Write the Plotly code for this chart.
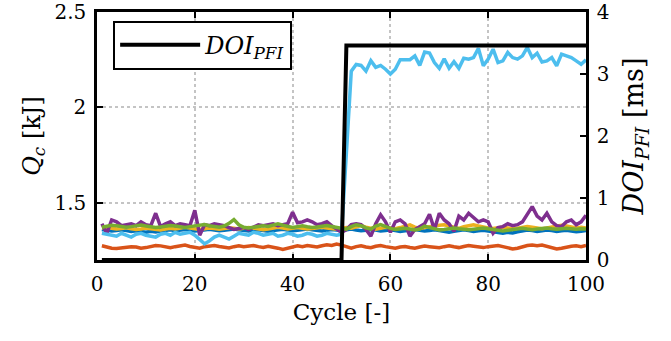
import plotly.graph_objects as go

cycles = list(range(1, 101))

q_blue = [1.360, 1.356, 1.352, 1.355, 1.358, 1.354, 1.350, 1.353, 1.348, 1.346,
          1.350, 1.347, 1.352, 1.356, 1.358, 1.354, 1.357, 1.360, 1.356, 1.352,
          1.355, 1.358, 1.361, 1.357, 1.353, 1.356, 1.360, 1.362, 1.358, 1.355,
          1.352, 1.356, 1.359, 1.355, 1.351, 1.354, 1.358, 1.361, 1.357, 1.353,
          1.356, 1.359, 1.362, 1.358, 1.355, 1.352, 1.356, 1.360, 1.357, 1.354,
          1.358, 1.362, 1.357, 1.353, 1.356, 1.360, 1.357, 1.352, 1.355, 1.358,
          1.354, 1.350, 1.353, 1.357, 1.360, 1.356, 1.352, 1.355, 1.358, 1.354,
          1.350, 1.346, 1.350, 1.355, 1.358, 1.354, 1.350, 1.353, 1.356, 1.352,
          1.348, 1.344, 1.340, 1.345, 1.342, 1.348, 1.353, 1.357, 1.354, 1.350,
          1.353, 1.357, 1.354, 1.350, 1.353, 1.356, 1.352, 1.348, 1.351, 1.355]

q_orange = [1.275, 1.268, 1.262, 1.260, 1.263, 1.266, 1.270, 1.268, 1.262, 1.265,
            1.272, 1.276, 1.274, 1.268, 1.264, 1.270, 1.275, 1.278, 1.271, 1.266,
            1.262, 1.270, 1.273, 1.276, 1.271, 1.266, 1.263, 1.270, 1.274, 1.269,
            1.272, 1.276, 1.270, 1.266, 1.272, 1.268, 1.262, 1.255, 1.262, 1.270,
            1.274, 1.270, 1.276, 1.272, 1.268, 1.275, 1.280, 1.276, 1.284, 1.278,
            1.268, 1.262, 1.270, 1.275, 1.268, 1.264, 1.272, 1.276, 1.270, 1.265,
            1.262, 1.268, 1.271, 1.266, 1.262, 1.268, 1.273, 1.270, 1.266, 1.264,
            1.270, 1.274, 1.269, 1.265, 1.271, 1.276, 1.272, 1.268, 1.265, 1.270,
            1.274, 1.276, 1.270, 1.262, 1.258, 1.262, 1.270, 1.276, 1.279, 1.275,
            1.278, 1.272, 1.265, 1.258, 1.262, 1.268, 1.272, 1.274, 1.270, 1.276]

q_yellow = [1.368, 1.372, 1.366, 1.362, 1.365, 1.369, 1.364, 1.360, 1.363, 1.367,
            1.364, 1.360, 1.358, 1.362, 1.366, 1.363, 1.368, 1.372, 1.367, 1.363,
            1.360, 1.364, 1.368, 1.365, 1.361, 1.365, 1.369, 1.366, 1.362, 1.366,
            1.370, 1.367, 1.363, 1.359, 1.363, 1.367, 1.371, 1.367, 1.363, 1.366,
            1.370, 1.366, 1.362, 1.365, 1.369, 1.372, 1.368, 1.364, 1.361, 1.365,
            1.370, 1.366, 1.372, 1.380, 1.372, 1.366, 1.362, 1.366, 1.372, 1.368,
            1.364, 1.370, 1.376, 1.384, 1.372, 1.365, 1.370, 1.375, 1.378, 1.382,
            1.385, 1.380, 1.372, 1.366, 1.374, 1.380, 1.384, 1.378, 1.372, 1.368,
            1.365, 1.369, 1.373, 1.368, 1.363, 1.367, 1.372, 1.376, 1.372, 1.367,
            1.364, 1.368, 1.373, 1.378, 1.382, 1.378, 1.373, 1.368, 1.372, 1.368]

q_purple = [1.390, 1.340, 1.410, 1.400, 1.380, 1.385, 1.390, 1.380, 1.400, 1.385,
            1.380, 1.445, 1.375, 1.390, 1.400, 1.380, 1.390, 1.385, 1.380, 1.460,
            1.330, 1.385, 1.380, 1.390, 1.385, 1.380, 1.370, 1.360, 1.365, 1.370,
            1.360, 1.375, 1.385, 1.380, 1.385, 1.390, 1.380, 1.385, 1.390, 1.450,
            1.395, 1.400, 1.410, 1.400, 1.385, 1.390, 1.400, 1.380, 1.365, 1.345,
            1.360, 1.385, 1.390, 1.385, 1.360, 1.325, 1.390, 1.437, 1.400, 1.345,
            1.400, 1.410, 1.390, 1.325, 1.360, 1.375, 1.390, 1.440, 1.360, 1.445,
            1.410, 1.390, 1.350, 1.430, 1.410, 1.445, 1.420, 1.400, 1.410, 1.400,
            1.340, 1.370, 1.375, 1.390, 1.380, 1.385, 1.400, 1.440, 1.480, 1.430,
            1.410, 1.445, 1.400, 1.380, 1.375, 1.400, 1.410, 1.385, 1.400, 1.435]

q_green = [1.372, 1.378, 1.382, 1.380, 1.376, 1.372, 1.375, 1.380, 1.383, 1.378,
           1.374, 1.370, 1.373, 1.377, 1.381, 1.378, 1.374, 1.371, 1.375, 1.379,
           1.383, 1.386, 1.380, 1.375, 1.372, 1.378, 1.392, 1.412, 1.385, 1.372,
           1.368, 1.372, 1.377, 1.380, 1.376, 1.382, 1.390, 1.382, 1.375, 1.371,
           1.375, 1.379, 1.374, 1.370, 1.373, 1.377, 1.381, 1.376, 1.372, 1.366,
           1.362, 1.375, 1.385, 1.380, 1.368, 1.362, 1.378, 1.386, 1.375, 1.366,
           1.360, 1.362, 1.366, 1.362, 1.358, 1.362, 1.378, 1.370, 1.362, 1.358,
           1.360, 1.364, 1.368, 1.364, 1.360, 1.358, 1.361, 1.365, 1.368, 1.364,
           1.360, 1.356, 1.352, 1.356, 1.360, 1.363, 1.366, 1.362, 1.359, 1.362,
           1.365, 1.368, 1.364, 1.361, 1.364, 1.367, 1.364, 1.361, 1.364, 1.362]

q_lightblue = [1.340, 1.335, 1.330, 1.325, 1.340, 1.330, 1.320, 1.335, 1.340, 1.330,
               1.325, 1.320, 1.335, 1.340, 1.330, 1.345, 1.335, 1.340, 1.345, 1.330,
               1.310, 1.285, 1.300, 1.320, 1.330, 1.320, 1.310, 1.325, 1.340, 1.335,
               1.330, 1.345, 1.340, 1.330, 1.335, 1.340, 1.325, 1.330, 1.340, 1.335,
               1.325, 1.330, 1.340, 1.335, 1.325, 1.330, 1.340, 1.335, 1.330, 1.335,
               1.760, 2.190, 2.225, 2.220, 2.190, 2.245, 2.210, 2.220, 2.200, 2.175,
               2.200, 2.250, 2.250, 2.250, 2.270, 2.220, 2.290, 2.285, 2.235, 2.205,
               2.255, 2.205, 2.240, 2.205, 2.258, 2.253, 2.261, 2.309, 2.218, 2.253,
               2.305, 2.235, 2.244, 2.288, 2.261, 2.253, 2.270, 2.314, 2.261, 2.284,
               2.238, 2.244, 2.261, 2.218, 2.279, 2.270, 2.261, 2.244, 2.226, 2.249]

doi_pfi = [0, 0, 0, 0, 0, 0, 0, 0, 0, 0,
           0, 0, 0, 0, 0, 0, 0, 0, 0, 0,
           0, 0, 0, 0, 0, 0, 0, 0, 0, 0,
           0, 0, 0, 0, 0, 0, 0, 0, 0, 0,
           0, 0, 0, 0, 0, 0, 0, 0, 0, 0,
           3.46, 3.46, 3.46, 3.46, 3.46, 3.46, 3.46, 3.46, 3.46, 3.46,
           3.46, 3.46, 3.46, 3.46, 3.46, 3.46, 3.46, 3.46, 3.46, 3.46,
           3.46, 3.46, 3.46, 3.46, 3.46, 3.46, 3.46, 3.46, 3.46, 3.46,
           3.46, 3.46, 3.46, 3.46, 3.46, 3.46, 3.46, 3.46, 3.46, 3.46,
           3.46, 3.46, 3.46, 3.46, 3.46, 3.46, 3.46, 3.46, 3.46, 3.46]

x_ticks = [0, 20, 40, 60, 80, 100]
y_ticks = [1.5, 2, 2.5]
y2_ticks = [0, 1, 2, 3, 4]

series = [
    (q_blue, "#0072BD"),
    (q_orange, "#D95319"),
    (q_yellow, "#EDB120"),
    (q_purple, "#7E2F8E"),
    (q_green, "#77AC30"),
    (q_lightblue, "#4DBEEE"),
]

FONT = "DejaVu Serif"
GRID = "#c4c4c4"

fig = go.Figure()
for vals, col in series:
    fig.add_trace(go.Scatter(x=cycles, y=vals, mode="lines",
                             line=dict(color=col, width=3.5),
                             showlegend=False, yaxis="y"))

fig.add_trace(go.Scatter(x=cycles, y=doi_pfi, mode="lines",
                         line=dict(color="black", width=4),
                         name="<i>DOI</i><sub><i>PFI</i></sub>",
                         showlegend=True, yaxis="y2"))

fig.update_layout(
    width=671, height=341,
    margin=dict(l=97, r=85, t=12, b=81, autoexpand=False),
    paper_bgcolor="white", plot_bgcolor="white",
    font=dict(family=FONT, size=20, color="black"),
    xaxis=dict(range=[0, 100], tickvals=x_ticks, ticks="inside", ticklen=6,
               tickwidth=1.5, tickcolor="black", showline=True, linecolor="black",
               linewidth=2.5, mirror="ticks", showgrid=True, gridcolor=GRID,
               griddash="dot", gridwidth=1.5, zeroline=False, automargin=False,
               ticklabelstandoff=4,
               title=dict(text="Cycle [-]", font=dict(size=23), standoff=10),
               tickfont=dict(size=20)),
    yaxis=dict(range=[1.2, 2.5], tickvals=y_ticks, ticktext=["1.5", "2", "2.5"],
               ticks="inside", ticklen=6, tickwidth=1.5, tickcolor="black",
               showline=True, linecolor="black", linewidth=2.5, mirror=False,
               showgrid=True, gridcolor=GRID, griddash="dot", gridwidth=1.5,
               zeroline=False, ticklabelstandoff=4, automargin=False,
               title=dict(text="<i>Q</i><sub><i>c</i></sub> [kJ]", font=dict(size=24),
                          standoff=8),
               tickfont=dict(size=20)),
    yaxis2=dict(range=[0, 4], tickvals=y2_ticks, overlaying="y", side="right",
                ticks="inside", ticklen=6, tickwidth=1.5, tickcolor="black",
                showline=True, linecolor="black", linewidth=2.5, showgrid=False,
                zeroline=False, ticklabelstandoff=4, automargin=False,
                title=dict(text="<i>DOI</i><sub><i>PFI</i></sub> [ms]",
                           font=dict(size=27), standoff=16),
                tickfont=dict(size=20)),
    legend=dict(x=0.033, y=0.965, xanchor="left", yanchor="top",
                bgcolor="white", bordercolor="black", borderwidth=2,
                itemwidth=80,
                font=dict(family=FONT, size=24)),
)

fig.write_html("out.html")
